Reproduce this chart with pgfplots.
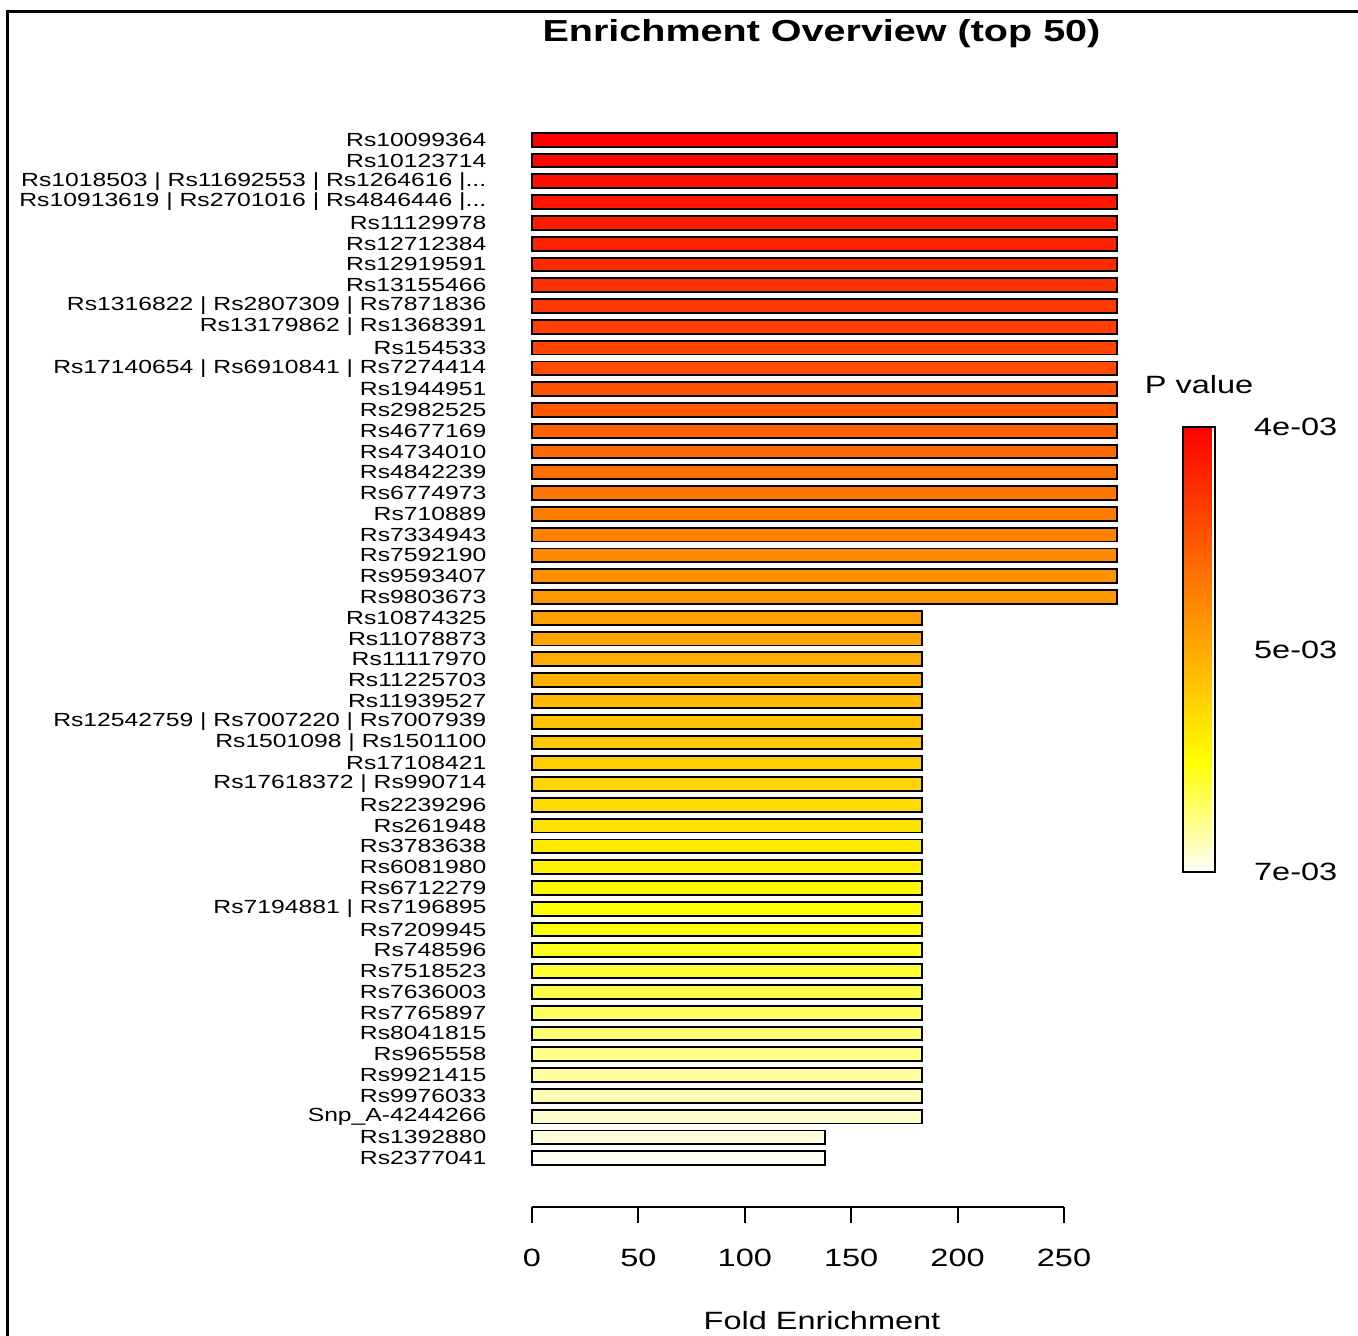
\documentclass[border=0pt]{standalone}
\usepackage{pgfplots}
\pgfplotsset{compat=1.18}
\usepackage{fontspec}
\setmainfont{Liberation Sans}[FakeStretch=1.3]

% heat.colors(50)
\definecolor{c0}{RGB}{255,0,0}
\definecolor{c1}{RGB}{255,7,0}
\definecolor{c2}{RGB}{255,14,0}
\definecolor{c3}{RGB}{255,21,0}
\definecolor{c4}{RGB}{255,28,0}
\definecolor{c5}{RGB}{255,34,0}
\definecolor{c6}{RGB}{255,41,0}
\definecolor{c7}{RGB}{255,48,0}
\definecolor{c8}{RGB}{255,55,0}
\definecolor{c9}{RGB}{255,62,0}
\definecolor{c10}{RGB}{255,69,0}
\definecolor{c11}{RGB}{255,76,0}
\definecolor{c12}{RGB}{255,83,0}
\definecolor{c13}{RGB}{255,90,0}
\definecolor{c14}{RGB}{255,96,0}
\definecolor{c15}{RGB}{255,103,0}
\definecolor{c16}{RGB}{255,110,0}
\definecolor{c17}{RGB}{255,117,0}
\definecolor{c18}{RGB}{255,124,0}
\definecolor{c19}{RGB}{255,131,0}
\definecolor{c20}{RGB}{255,138,0}
\definecolor{c21}{RGB}{255,145,0}
\definecolor{c22}{RGB}{255,152,0}
\definecolor{c23}{RGB}{255,159,0}
\definecolor{c24}{RGB}{255,165,0}
\definecolor{c25}{RGB}{255,172,0}
\definecolor{c26}{RGB}{255,179,0}
\definecolor{c27}{RGB}{255,186,0}
\definecolor{c28}{RGB}{255,193,0}
\definecolor{c29}{RGB}{255,200,0}
\definecolor{c30}{RGB}{255,207,0}
\definecolor{c31}{RGB}{255,214,0}
\definecolor{c32}{RGB}{255,221,0}
\definecolor{c33}{RGB}{255,227,0}
\definecolor{c34}{RGB}{255,234,0}
\definecolor{c35}{RGB}{255,241,0}
\definecolor{c36}{RGB}{255,248,0}
\definecolor{c37}{RGB}{255,255,0}
\definecolor{c38}{RGB}{255,255,11}
\definecolor{c39}{RGB}{255,255,32}
\definecolor{c40}{RGB}{255,255,53}
\definecolor{c41}{RGB}{255,255,74}
\definecolor{c42}{RGB}{255,255,96}
\definecolor{c43}{RGB}{255,255,117}
\definecolor{c44}{RGB}{255,255,138}
\definecolor{c45}{RGB}{255,255,159}
\definecolor{c46}{RGB}{255,255,181}
\definecolor{c47}{RGB}{255,255,202}
\definecolor{c48}{RGB}{255,255,223}
\definecolor{c49}{RGB}{255,255,244}

\pgfplotsset{
  colormap={heat}{rgb255(0cm)=(255,255,250); rgb255(1cm)=(255,255,0); rgb255(4cm)=(255,0,0)},
  hb/.style={xbar, bar shift=0pt, bar width=6.9pt, draw=black, line width=0.95pt},
}

\begin{document}
\begin{tikzpicture}
\path[use as bounding box] (-266pt,-64.5pt) rectangle (413pt,603.5pt);
\draw[line width=1.3pt] (-262.25pt,-70pt) -- (-262.25pt,597.75pt) -- (420pt,597.75pt);
\node[font=\fontsize{15.2}{17}\selectfont\bfseries] at (144.75pt,586.5pt) {Enrichment Overview (top 50)};
\begin{axis}[
  at={(0pt,0pt)}, anchor=south west,
  scale only axis, width=266pt, height=544pt,
  xmin=0, xmax=250, ymin=-2.35, ymax=50,
  clip=false,
  axis x line*=bottom, axis y line*=left,
  y axis line style={draw=none},
  x axis line style={line width=1pt},
  tick align=outside,
  major tick length=8pt,
  xtick={0,50,100,150,200,250},
  xtick style={line width=1pt, black},
  ytick style={draw=none},
  ytick={0,...,49},
  /pgf/number format/assume math mode=true,
  xticklabel style={font=\fontsize{12.5}{14}\selectfont, yshift=-9.5pt},
  yticklabel style={font=\fontsize{9.5}{11}\selectfont, xshift=-11.3pt},
  yticklabels={Rs2377041,Rs1392880,Snp\_A-4244266,Rs9976033,Rs9921415,Rs965558,Rs8041815,Rs7765897,Rs7636003,Rs7518523,Rs748596,Rs7209945,Rs7194881 | Rs7196895,Rs6712279,Rs6081980,Rs3783638,Rs261948,Rs2239296,Rs17618372 | Rs990714,Rs17108421,Rs1501098 | Rs1501100,Rs12542759 | Rs7007220 | Rs7007939,Rs11939527,Rs11225703,Rs11117970,Rs11078873,Rs10874325,Rs9803673,Rs9593407,Rs7592190,Rs7334943,Rs710889,Rs6774973,Rs4842239,Rs4734010,Rs4677169,Rs2982525,Rs1944951,Rs17140654 | Rs6910841 | Rs7274414,Rs154533,Rs13179862 | Rs1368391,Rs1316822 | Rs2807309 | Rs7871836,Rs13155466,Rs12919591,Rs12712384,Rs11129978,{Rs10913619 | Rs2701016 | Rs4846446 |.{}.{}.},{Rs1018503 | Rs11692553 | Rs1264616 |.{}.{}.},Rs10123714,Rs10099364},
  xlabel={Fold Enrichment},
  xlabel style={font=\fontsize{12.5}{14}\selectfont, at={(axis description cs:0.5451,-0.104)}, anchor=center},
  colorbar,
  colormap name=heat,
  point meta min=0, point meta max=2,
  colorbar style={
    at={(parent axis.south west)}, anchor=north west,
    xshift=317pt, yshift=390pt,
    width=16pt, height=222.5pt,
    ytick={0,1,2}, yticklabels={7e-03,5e-03,4e-03},
    major tick length=0pt,
    axis line style={line width=1pt},
    yticklabel style={font=\fontsize{12.5}{14}\selectfont, xshift=16pt},
    title={P value},
    title style={font=\fontsize{12.5}{14}\selectfont, at={(0.5,1)}, anchor=center, yshift=15pt},
  },
]
\addplot[hb, fill=c0] coordinates {(275,49)};
\addplot[hb, fill=c1] coordinates {(275,48)};
\addplot[hb, fill=c2] coordinates {(275,47)};
\addplot[hb, fill=c3] coordinates {(275,46)};
\addplot[hb, fill=c4] coordinates {(275,45)};
\addplot[hb, fill=c5] coordinates {(275,44)};
\addplot[hb, fill=c6] coordinates {(275,43)};
\addplot[hb, fill=c7] coordinates {(275,42)};
\addplot[hb, fill=c8] coordinates {(275,41)};
\addplot[hb, fill=c9] coordinates {(275,40)};
\addplot[hb, fill=c10] coordinates {(275,39)};
\addplot[hb, fill=c11] coordinates {(275,38)};
\addplot[hb, fill=c12] coordinates {(275,37)};
\addplot[hb, fill=c13] coordinates {(275,36)};
\addplot[hb, fill=c14] coordinates {(275,35)};
\addplot[hb, fill=c15] coordinates {(275,34)};
\addplot[hb, fill=c16] coordinates {(275,33)};
\addplot[hb, fill=c17] coordinates {(275,32)};
\addplot[hb, fill=c18] coordinates {(275,31)};
\addplot[hb, fill=c19] coordinates {(275,30)};
\addplot[hb, fill=c20] coordinates {(275,29)};
\addplot[hb, fill=c21] coordinates {(275,28)};
\addplot[hb, fill=c22] coordinates {(275,27)};
\addplot[hb, fill=c23] coordinates {(183.3,26)};
\addplot[hb, fill=c24] coordinates {(183.3,25)};
\addplot[hb, fill=c25] coordinates {(183.3,24)};
\addplot[hb, fill=c26] coordinates {(183.3,23)};
\addplot[hb, fill=c27] coordinates {(183.3,22)};
\addplot[hb, fill=c28] coordinates {(183.3,21)};
\addplot[hb, fill=c29] coordinates {(183.3,20)};
\addplot[hb, fill=c30] coordinates {(183.3,19)};
\addplot[hb, fill=c31] coordinates {(183.3,18)};
\addplot[hb, fill=c32] coordinates {(183.3,17)};
\addplot[hb, fill=c33] coordinates {(183.3,16)};
\addplot[hb, fill=c34] coordinates {(183.3,15)};
\addplot[hb, fill=c35] coordinates {(183.3,14)};
\addplot[hb, fill=c36] coordinates {(183.3,13)};
\addplot[hb, fill=c37] coordinates {(183.3,12)};
\addplot[hb, fill=c38] coordinates {(183.3,11)};
\addplot[hb, fill=c39] coordinates {(183.3,10)};
\addplot[hb, fill=c40] coordinates {(183.3,9)};
\addplot[hb, fill=c41] coordinates {(183.3,8)};
\addplot[hb, fill=c42] coordinates {(183.3,7)};
\addplot[hb, fill=c43] coordinates {(183.3,6)};
\addplot[hb, fill=c44] coordinates {(183.3,5)};
\addplot[hb, fill=c45] coordinates {(183.3,4)};
\addplot[hb, fill=c46] coordinates {(183.3,3)};
\addplot[hb, fill=c47] coordinates {(183.3,2)};
\addplot[hb, fill=c48] coordinates {(137.5,1)};
\addplot[hb, fill=c49] coordinates {(137.5,0)};
\end{axis}
\end{tikzpicture}
\end{document}
